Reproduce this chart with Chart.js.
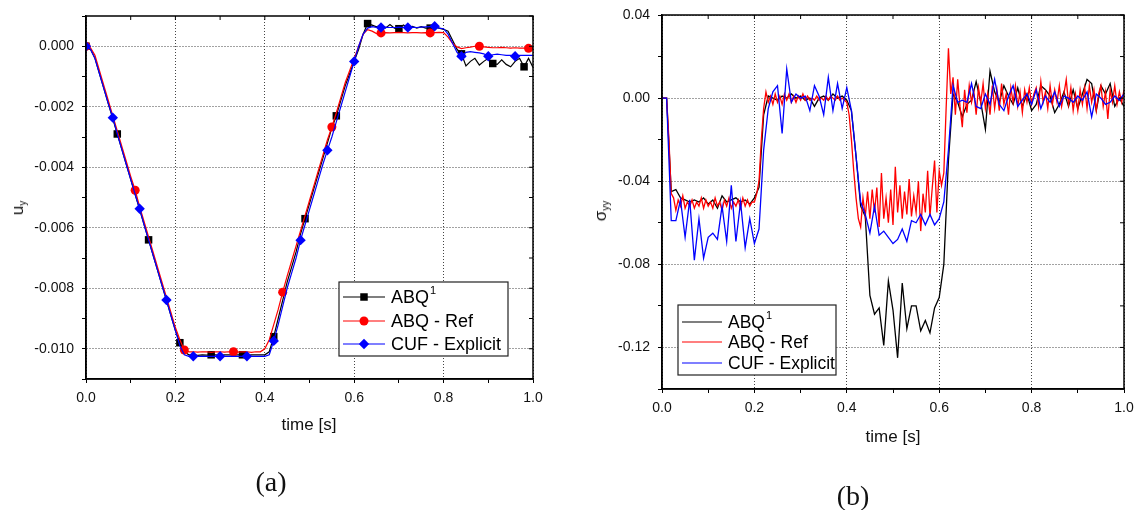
<!DOCTYPE html>
<html>
<head>
<meta charset="utf-8">
<script src="https://cdn.jsdelivr.net/npm/chart.js@4.4.1/dist/chart.umd.min.js"></script>
<style>
  body { margin: 0; background: #fff; }
  #page { position: relative; width: 1142px; height: 510px; overflow: hidden;
          font-family: "Liberation Sans", Arial, sans-serif; color: #111; }
  canvas { position: absolute; top: 0; }
  .lbl { position: absolute; transform: translate(-50%, -50%); white-space: nowrap; font-size: 17px; }
  .rot { transform: translate(-50%, -50%) rotate(-90deg); }
  .lbl sub { font-size: 10px; vertical-align: -3px; }
  .cap { font-family: "Liberation Serif", "DejaVu Serif", serif; font-size: 28px; }
</style>
</head>
<body>
<div id="page">
  <canvas id="chartA" width="560" height="510" style="left:0"></canvas>
  <canvas id="chartB" width="572" height="510" style="left:570px"></canvas>

  <div class="lbl rot" style="left:18px; top:208px">u<sub>y</sub></div>
  <div class="lbl" style="left:309px; top:425px">time [s]</div>
  <div class="lbl cap" style="left:271px; top:482px">(a)</div>

  <div class="lbl rot" style="left:601px; top:211px">&sigma;<sub>yy</sub></div>
  <div class="lbl" style="left:893px; top:437px">time [s]</div>
  <div class="lbl cap" style="left:853px; top:496px">(b)</div>
</div>
<script>
// series names (ABQ gets a superscript 1 in the legend)
const seriesNames = ['ABQ', 'ABQ - Ref', 'CUF - Explicit'];
const seriesSup = ['1', '', ''];

// ---- panel (a): displacement u_y, one value every 0.01 s ----
const stepA = 0.01;
const uyABQ1 = [
  0, -0.0001, -0.0004, -0.0009, -0.0014, -0.0019, -0.0024, -0.0029, -0.0034, -0.0039,
  -0.0044, -0.0049, -0.0054, -0.0059, -0.0064, -0.0069, -0.0074, -0.0079, -0.0084, -0.0089,
  -0.0094, -0.0098, -0.0101, -0.0102, -0.0102, -0.01022, -0.0102, -0.01021, -0.0102, -0.0102,
  -0.01022, -0.0102, -0.0102, -0.01021, -0.0102, -0.0102, -0.01022, -0.0102, -0.0102, -0.0102,
  -0.0102, -0.0101, -0.0096, -0.0090, -0.0084, -0.0078, -0.0073, -0.0068, -0.0062, -0.0057,
  -0.0052, -0.0047, -0.0042, -0.0037, -0.0032, -0.0027, -0.0023, -0.0018, -0.0013, -0.0009,
  -0.0005, -0.0001, 0.0004, 0.00075, 0.0007, 0.00064, 0.0007, 0.0006, 0.00072, 0.0006,
  0.00058, 0.0007, 0.00062, 0.00066, 0.0006, 0.00065, 0.0006, 0.0006, 0.00063, 0.0006,
  0.00056, 0.0005, 0.0002, -0.0001, -0.00025, -0.00065, -0.0005, -0.0004, -0.00062, -0.0005,
  -0.0004, -0.00057, -0.0006, -0.00045, -0.0006, -0.00068, -0.0005, -0.0004, -0.00068, -0.0004,
  -0.0007
];
const uyABQRef = [
  0, -0.00005, -0.0003, -0.0008, -0.0013, -0.0018, -0.0023, -0.0028, -0.0033, -0.0038,
  -0.0043, -0.00476, -0.0053, -0.0058, -0.0063, -0.0068, -0.0073, -0.0078, -0.0083, -0.0088,
  -0.0093, -0.0097, -0.01004, -0.0101, -0.0101, -0.01011, -0.0101, -0.0101, -0.01012, -0.0101,
  -0.0101, -0.01011, -0.0101, -0.0101, -0.01011, -0.0101, -0.0101, -0.01012, -0.0101, -0.0101,
  -0.0100, -0.0097, -0.0092, -0.0087, -0.00813, -0.0076, -0.0071, -0.0066, -0.0061, -0.0056,
  -0.0051, -0.0046, -0.0041, -0.0036, -0.0031, -0.00267, -0.0022, -0.0017, -0.0012, -0.0008,
  -0.0004, 0.0000, 0.0004, 0.00055, 0.0005, 0.00042, 0.00044, 0.00045, 0.00044, 0.00045,
  0.00046, 0.00045, 0.00044, 0.00045, 0.00045, 0.00044, 0.00045, 0.00044, 0.00045, 0.00046,
  0.00045, 0.0003, 0.0001, -0.00002, -0.00008, -0.00005, -0.00003, 0, 0, -0.00002,
  -0.00004, -0.00005, -0.00005, -0.00004, -0.00005, -0.00006, -0.00005, -0.00006, -0.00006, -0.00007,
  -0.00005
];
const uyCUF = [
  0, -0.0001, -0.0004, -0.0009, -0.0014, -0.0019, -0.00236, -0.0029, -0.0034, -0.0039,
  -0.0044, -0.0049, -0.00537, -0.0059, -0.0064, -0.0069, -0.0074, -0.0079, -0.00839, -0.0089,
  -0.0094, -0.0099, -0.0102, -0.01025, -0.01025, -0.01025, -0.01025, -0.01025, -0.01025, -0.01025,
  -0.01025, -0.01025, -0.01025, -0.01025, -0.01025, -0.01025, -0.01025, -0.01025, -0.01025, -0.01025,
  -0.01025, -0.0102, -0.00974, -0.0092, -0.0086, -0.0080, -0.0075, -0.0070, -0.00641, -0.0059,
  -0.0054, -0.0049, -0.0044, -0.0039, -0.00344, -0.0030, -0.0025, -0.0020, -0.0015, -0.0010,
  -0.0005, 0.0000, 0.0004, 0.0006, 0.00065, 0.00062, 0.00062, 0.00063, 0.00062, 0.00062,
  0.00063, 0.00062, 0.00062, 0.00063, 0.00062, 0.00063, 0.00064, 0.00065, 0.00066, 0.0006,
  0.00058, 0.0004, 0.0001, -0.0002, -0.00033, -0.0002, -0.00018, -0.0002, -0.00022, -0.00025,
  -0.00033, -0.00028, -0.00026, -0.00028, -0.0003, -0.0003, -0.00033, -0.0003, -0.0003, -0.0003,
  -0.0003
];

// ---- panel (b): stress sigma_yy ----
const stepB = 0.01;      // ABQ1 and CUF
const stepBRef = 0.005;  // ABQ - Ref is sampled twice as often
const syyABQ1 = [
  0, 0, -0.045, -0.044, -0.048, -0.049, -0.050, -0.049, -0.050, -0.048,
  -0.051, -0.049, -0.053, -0.047, -0.050, -0.049, -0.048, -0.050, -0.049, -0.051,
  -0.048, -0.043, -0.008, 0.001, 0.000, -0.001, 0.001, 0.000, 0.002, 0.000,
  0.001, -0.001, 0.000, -0.004, 0.000, 0.001, -0.001, 0.002, 0.000, 0.001,
  -0.001, -0.006, -0.028, -0.052, -0.057, -0.095, -0.104, -0.101, -0.119, -0.088,
  -0.102, -0.125, -0.089, -0.111, -0.100, -0.100, -0.112, -0.107, -0.113, -0.101,
  -0.096, -0.080, -0.030, 0.002, -0.002, -0.009, -0.003, -0.001, 0.008, -0.002,
  -0.015, 0.013, 0.003, -0.002, 0.006, 0.001, -0.003, 0.005, -0.004, 0.002,
  -0.006, -0.003, 0.006, 0.004, 0.001, -0.007, -0.003, 0.003, -0.004, 0.004,
  -0.005, 0.002, 0.009, 0.007, -0.006, 0.006, 0.002, 0.007, -0.004, 0.000,
  -0.004
];
const syyABQRef = [
  0, 0, 0, -0.020, -0.046, -0.048, -0.054, -0.049, -0.052, -0.047,
  -0.053, -0.050, -0.052, -0.049, -0.053, -0.050, -0.052, -0.048, -0.053, -0.049,
  -0.052, -0.050, -0.053, -0.048, -0.052, -0.050, -0.054, -0.049, -0.052, -0.048,
  -0.053, -0.050, -0.052, -0.049, -0.053, -0.048, -0.052, -0.049, -0.052, -0.050,
  -0.050, -0.046, -0.040, -0.020, -0.005, 0.003, -0.002, 0.001, -0.003, 0.002,
  -0.002, 0.001, -0.003, 0.002, -0.001, 0.002, -0.002, 0.001, -0.002, 0.001,
  -0.001, 0.002, -0.001, 0.001, -0.001, 0.000, -0.001, 0.001, -0.001, 0.000,
  -0.001, 0.001, -0.001, 0.001, 0.000, -0.001, 0.001, -0.001, 0.000, -0.001,
  -0.002, -0.008, -0.020, -0.035, -0.048, -0.058, -0.062, -0.048, -0.057, -0.045,
  -0.058, -0.044, -0.055, -0.043, -0.062, -0.036, -0.058, -0.048, -0.060, -0.044,
  -0.061, -0.033, -0.055, -0.042, -0.058, -0.045, -0.056, -0.039, -0.057, -0.047,
  -0.055, -0.040, -0.064, -0.046, -0.055, -0.035, -0.057, -0.043, -0.030, -0.055,
  -0.035, -0.042, -0.036, -0.005, 0.024, 0.002, 0.010, -0.008, 0.009, -0.004,
  -0.014, 0.004, -0.007, 0.006, -0.002, 0.003, -0.008, 0.005, -0.002, 0.007,
  -0.005, 0.002, -0.008, 0.006, -0.005, 0.004, -0.006, 0.007, -0.003, 0.002,
  -0.008, 0.005, -0.002, 0.006, -0.004, 0.003, -0.007, 0.004, -0.002, 0.005,
  -0.003, 0.002, 0.005, -0.004, 0.008, -0.002, 0.003, -0.005, 0.006, -0.003,
  0.004, -0.002, 0.006, -0.004, 0.002, 0.009, -0.003, 0.005, -0.006, 0.002,
  -0.006, 0.004, -0.003, 0.005, -0.005, 0.006, -0.002, 0.004, -0.006, 0.002,
  0.006, -0.004, 0.003, -0.010, 0.004, -0.002, 0.006, -0.003, 0.003, -0.002,
  0.004
];
const syyCUF = [
  0, 0, -0.059, -0.059, -0.049, -0.067, -0.049, -0.078, -0.058, -0.077,
  -0.067, -0.065, -0.068, -0.052, -0.069, -0.042, -0.069, -0.050, -0.072, -0.058,
  -0.070, -0.063, -0.025, -0.005, 0.003, 0.006, -0.017, 0.014, -0.002, 0.002,
  0.000, 0.001, -0.006, 0.006, 0.001, -0.008, 0.010, -0.006, 0.007, -0.005,
  0.005, -0.006, -0.028, -0.050, -0.056, -0.065, -0.052, -0.066, -0.064, -0.067,
  -0.070, -0.068, -0.063, -0.069, -0.059, -0.060, -0.056, -0.061, -0.056, -0.061,
  -0.058, -0.050, -0.025, 0.006, -0.002, -0.001, -0.002, 0.007, -0.004, -0.005,
  0.002, -0.003, 0.009, -0.003, -0.006, 0.001, 0.006, -0.004, -0.001, 0.002,
  -0.003, 0.004, -0.005, 0.001, -0.002, 0.003, -0.004, 0.001, 0.000, -0.002,
  0.001, -0.001, 0.003, -0.009, 0.002, 0.000, -0.003, -0.002, 0.001, -0.001,
  0.002
];

// ---- ticks ----
const xTicks = [0, 0.1, 0.2, 0.3, 0.4, 0.5, 0.6, 0.7, 0.8, 0.9, 1.0];
const xLabelled = [0, 0.2, 0.4, 0.6, 0.8, 1.0];
const yTicksA = [-0.011, -0.010, -0.009, -0.008, -0.007, -0.006, -0.005, -0.004, -0.003, -0.002, -0.001, 0, 0.001];
const yLabelledA = [-0.010, -0.008, -0.006, -0.004, -0.002, 0];
const yTicksB = [-0.14, -0.12, -0.10, -0.08, -0.06, -0.04, -0.02, 0, 0.02, 0.04];
const yLabelledB = [-0.12, -0.08, -0.04, 0, 0.04];

// marker every n-th sample in panel (a)
const markEvery = [7, 11, 6];

const FONT = '"Liberation Sans", Arial, sans-serif';
Chart.defaults.font.family = FONT;
Chart.defaults.font.size = 14;
Chart.defaults.color = '#111';

const isIn = (v, list) => list.some(m => Math.abs(m - v) < 1e-9);
const toPoints = (vals, step) => vals.map((v, i) => ({ x: +(i * step).toFixed(4), y: v }));

function drawMarker(ctx, style, x, y, r, color) {
  ctx.fillStyle = color;
  ctx.beginPath();
  if (style === 'rect') {
    const s = r * Math.SQRT1_2;
    ctx.rect(x - s, y - s, 2 * s, 2 * s);
  } else if (style === 'rectRot') {
    ctx.moveTo(x - r, y); ctx.lineTo(x, y - r); ctx.lineTo(x + r, y); ctx.lineTo(x, y + r);
    ctx.closePath();
  } else {
    ctx.arc(x, y, r, 0, Math.PI * 2);
  }
  ctx.fill();
}

// frame around the plot plus inward ticks on top and right
const framePlugin = {
  id: 'frame',
  afterDatasetsDraw(chart) {
    const { ctx, chartArea: a, scales: { x, y } } = chart;
    ctx.save();
    ctx.strokeStyle = '#000';
    ctx.lineWidth = 1;
    ctx.beginPath();
    x.ticks.forEach(t => { const p = x.getPixelForValue(t.value); ctx.moveTo(p, a.top); ctx.lineTo(p, a.top + 4); });
    y.ticks.forEach(t => { const p = y.getPixelForValue(t.value); ctx.moveTo(a.right, p); ctx.lineTo(a.right - 4, p); });
    ctx.stroke();
    ctx.lineWidth = 1.5;
    ctx.strokeRect(a.left, a.top, a.right - a.left, a.bottom - a.top);
    ctx.restore();
  }
};

function boxLegend(box) {
  return {
    id: 'boxLegend',
    afterDraw(chart) {
      const ctx = chart.ctx;
      ctx.save();
      ctx.fillStyle = '#fff';
      ctx.fillRect(box.x, box.y, box.w, box.h);
      ctx.strokeStyle = '#222';
      ctx.lineWidth = 1.2;
      ctx.strokeRect(box.x, box.y, box.w, box.h);
      ctx.textBaseline = 'middle';
      chart.data.datasets.forEach((ds, i) => {
        const yy = box.rows[i];
        ctx.strokeStyle = ds.borderColor;
        ctx.lineWidth = 1.2;
        ctx.beginPath();
        ctx.moveTo(box.x0, yy); ctx.lineTo(box.x1, yy);
        ctx.stroke();
        if (box.markers) drawMarker(ctx, ds.pointStyle, (box.x0 + box.x1) / 2, yy, ds.legendRadius, ds.borderColor);
        ctx.fillStyle = '#000';
        ctx.font = box.font + 'px ' + FONT;
        ctx.fillText(seriesNames[i], box.tx, yy + 1);
        if (seriesSup[i]) {
          const w = ctx.measureText(seriesNames[i]).width;
          ctx.font = Math.round(box.font * 0.62) + 'px ' + FONT;
          ctx.fillText(seriesSup[i], box.tx + w + 1, yy - 6);
        }
      });
      ctx.restore();
    }
  };
}

function scales(yTicks, yLabelled, yMin, yMax, digits, yWidth, xHeight) {
  const gridColor = list => c => (c.tick && isIn(c.tick.value, list)) ? '#444' : 'rgba(0,0,0,0)';
  return {
    x: {
      type: 'linear', min: 0, max: 1,
      afterBuildTicks: s => { s.ticks = xTicks.map(v => ({ value: v })); },
      afterFit: s => { s.height = xHeight; s.paddingLeft = 0; s.paddingRight = 0; },
      ticks: { autoSkip: false, maxRotation: 0, minRotation: 0, padding: 7, color: '#111',
               callback: v => isIn(v, xLabelled) ? v.toFixed(1) : '' },
      grid: { color: gridColor(xLabelled), tickColor: '#000', tickLength: 4, lineWidth: 1 },
      border: { color: '#000', width: 1.5, dash: [1, 2] }
    },
    y: {
      type: 'linear', min: yMin, max: yMax,
      afterBuildTicks: s => { s.ticks = yTicks.map(v => ({ value: v })); },
      afterFit: s => { s.width = yWidth; s.paddingTop = 0; s.paddingBottom = 0; },
      ticks: { autoSkip: false, padding: 8, color: '#111',
               callback: v => isIn(v, yLabelled) ? (Math.abs(v) < 1e-12 ? 0 : v).toFixed(digits) : '' },
      grid: { color: gridColor(yLabelled), tickColor: '#000', tickLength: 4, lineWidth: 1 },
      border: { color: '#000', width: 1.5, dash: [1, 2] }
    }
  };
}

const common = {
  responsive: false,
  animation: false,
  events: [],
  plugins: { legend: { display: false }, tooltip: { enabled: false } }
};

// panel (a)
new Chart(document.getElementById('chartA'), {
  type: 'line',
  data: {
    datasets: [
      { data: toPoints(uyABQ1, stepA), borderColor: '#000', backgroundColor: '#000', borderWidth: 1.2,
        pointStyle: 'rect', legendRadius: 5.3, pointBorderWidth: 0,
        pointRadius: c => c.dataIndex % markEvery[0] === 0 ? 5.3 : 0, order: 3 },
      { data: toPoints(uyABQRef, stepA), borderColor: '#ff0000', backgroundColor: '#ff0000', borderWidth: 1.2,
        pointStyle: 'circle', legendRadius: 4.5, pointBorderWidth: 0,
        pointRadius: c => c.dataIndex % markEvery[1] === 0 ? 4.5 : 0, order: 2 },
      { data: toPoints(uyCUF, stepA), borderColor: '#0000ff', backgroundColor: '#0000ff', borderWidth: 1.2,
        pointStyle: 'rectRot', legendRadius: 5.2, pointBorderWidth: 0,
        pointRadius: c => c.dataIndex % markEvery[2] === 0 ? 5.2 : 0, order: 1 }
    ]
  },
  options: Object.assign({}, common, {
    layout: { padding: { left: 0, right: 27, top: 16, bottom: 0 } },
    scales: scales(yTicksA, yLabelledA, -0.011, 0.001, 3, 86, 131)
  }),
  plugins: [framePlugin, boxLegend({ x: 339, y: 282, w: 169, h: 74, rows: [297, 321, 344],
                                     x0: 343, x1: 385, tx: 391, font: 18, markers: true })]
});

// panel (b)
new Chart(document.getElementById('chartB'), {
  type: 'line',
  data: {
    datasets: [
      { data: toPoints(syyABQ1, stepB), borderColor: '#000', borderWidth: 1.3, pointRadius: 0, order: 3 },
      { data: toPoints(syyABQRef, stepBRef), borderColor: '#ff0000', borderWidth: 1.3, pointRadius: 0, order: 2 },
      { data: toPoints(syyCUF, stepB), borderColor: '#0000ff', borderWidth: 1.3, pointRadius: 0, order: 1 }
    ]
  },
  options: Object.assign({}, common, {
    layout: { padding: { left: 0, right: 18, top: 15, bottom: 0 } },
    scales: scales(yTicksB, yLabelledB, -0.14, 0.04, 2, 92, 121)
  }),
  plugins: [framePlugin, boxLegend({ x: 108, y: 305, w: 158, h: 70, rows: [322, 342, 363],
                                     x0: 112, x1: 152, tx: 158, font: 17.5, markers: false })]
});
</script>
</body>
</html>
